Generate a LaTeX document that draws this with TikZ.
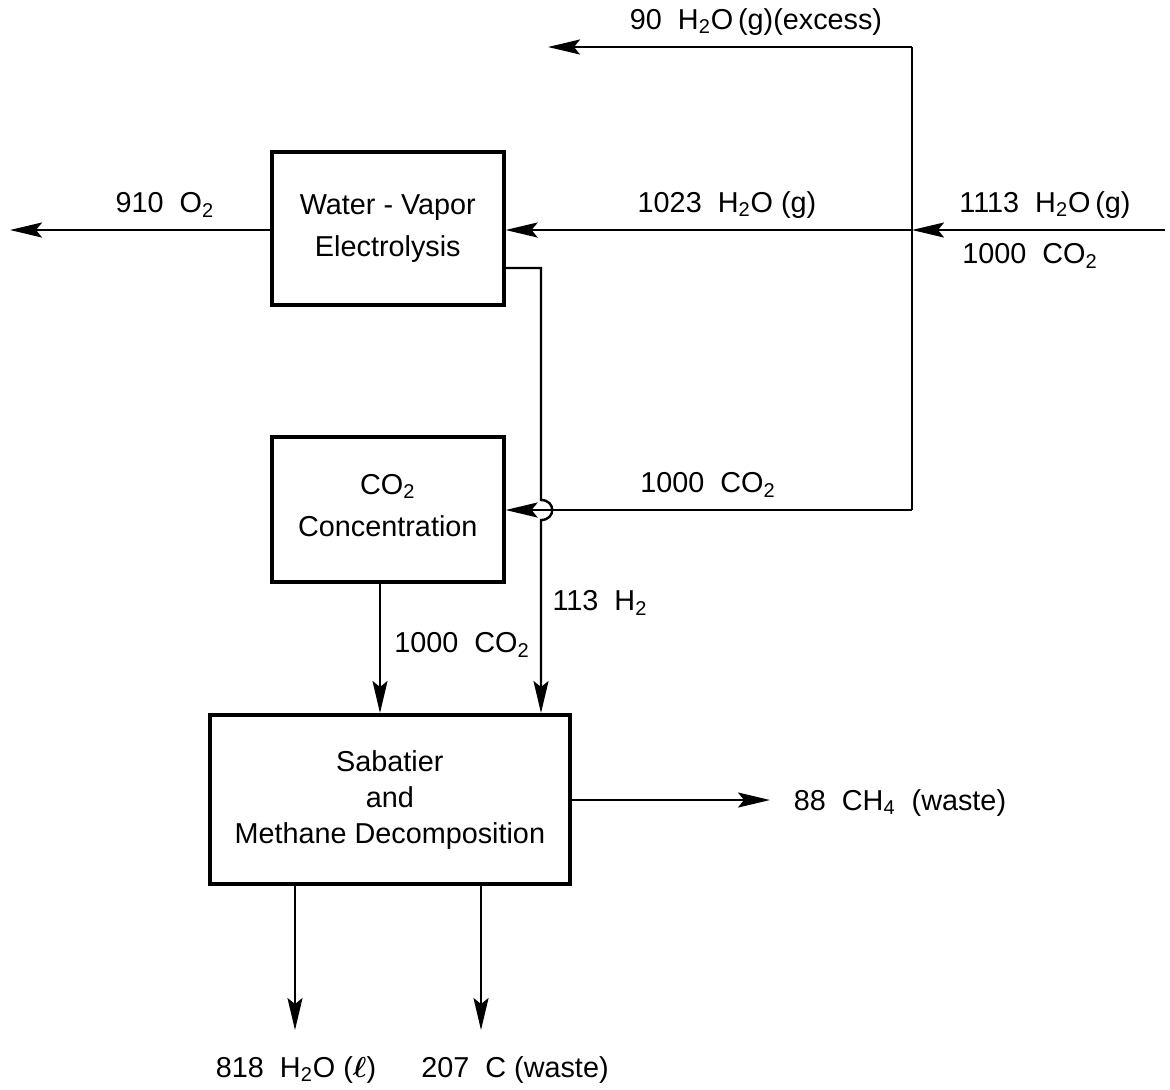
\documentclass[tikz,border=0pt]{standalone}
\usepackage{fontspec}
\usepackage{amsmath}
\setmainfont{Liberation Sans}
\usetikzlibrary{arrows.meta}
\newcommand{\sbs}[1]{\textsubscript{#1}}
\begin{document}
\begin{tikzpicture}[x=0.5pt,y=-0.5pt,
  box/.style={draw,line width=1.8pt,inner sep=0pt,anchor=north west},
  flow/.style={line width=1.2pt,-{Stealth[length=16pt,width=7.5pt,inset=3pt]}},
  plain/.style={line width=1.2pt},
  lbl/.style={font=\fontsize{14.4}{16}\selectfont,inner sep=0pt},
  txt/.style={font=\fontsize{14.4}{21}\selectfont,align=center}]
\useasboundingbox (0,0) rectangle (1170,1089);
% boxes
\node[box,minimum width=116pt,minimum height=76.5pt] (elec) at (270,150) {};
\node[txt] at (elec.center) {Water - Vapor\\Electrolysis};
\node[box,minimum width=116pt,minimum height=72.5pt] (conc) at (270,435) {};
\node[txt] at ([yshift=2pt]conc.center) {CO\sbs{2}\\Concentration};
\node[box,minimum width=180pt,minimum height=84.5pt] (sab) at (208,713) {};
\node[txt,font=\fontsize{14.4}{18}\selectfont] at ([yshift=-0.5pt]sab.center) {Sabatier\\and\\Methane Decomposition};
% coordinates
\coordinate (in) at (1165,230);
\coordinate (jA) at (912,230);
\coordinate (jT) at (912,47);
\coordinate (exc) at (548,47);
\coordinate (jB) at (912,510);
\coordinate (o2) at (10,230);
\coordinate (h2a) at (541,268);
\coordinate (h2b) at (541,500);
\coordinate (h2c) at (541,520);
\coordinate (ch4) at (770,800);
\coordinate (wat) at (295,1030);
\coordinate (carb) at (481,1030);
% connectors
\draw[flow] (in) -- (jA);
\draw[flow] (jA) -- (elec.east |- jA);
\draw[plain] (jT) -- (jB);
\draw[flow] (jT) -- (exc);
\draw[flow] (jB) -- (conc.east |- jB);
\draw[flow] (elec.west |- jA) -- (o2);
\draw[flow] (elec.east |- h2a) -- (h2a) -- (h2b) .. controls (556,500) and (556,520) .. (h2c) -- (sab.north -| h2a);
\draw[flow] (conc.south -| 380,0) -- (sab.north -| 380,0);
\draw[flow] (sab.east |- ch4) -- (ch4);
\draw[flow] (sab.south -| wat) -- (wat);
\draw[flow] (sab.south -| carb) -- (carb);
% labels
\node[lbl] (l1) at (756,22) {90\ \ H\sbs{2}O\,(g)(excess)};
\node[lbl] (l2) at (165,205) {910\ \ O\sbs{2}};
\node[lbl] (l3) at (727,205) {1023\ \ H\sbs{2}O (g)};
\node[lbl] (l4) at (1045,205) {1113\ \ H\sbs{2}O\,(g)};
\node[lbl] (l5) at (1030,256) {1000\ \ CO\sbs{2}};
\node[lbl] (l6) at (708,485) {1000\ \ CO\sbs{2}};
\node[lbl] (l7) at (600,603) {113\ \ H\sbs{2}};
\node[lbl] (l8) at (462,645) {1000\ \ CO\sbs{2}};
\node[lbl] (l9) at (900,803) {88\ \ CH\sbs{4}\ \ (waste)};
\node[lbl] (l10) at (296,1070) {818\ \ H\sbs{2}O ($\boldsymbol{\ell}$)};
\node[lbl] (l11) at (515,1070) {207\ \ C (waste)};
\end{tikzpicture}
\end{document}
